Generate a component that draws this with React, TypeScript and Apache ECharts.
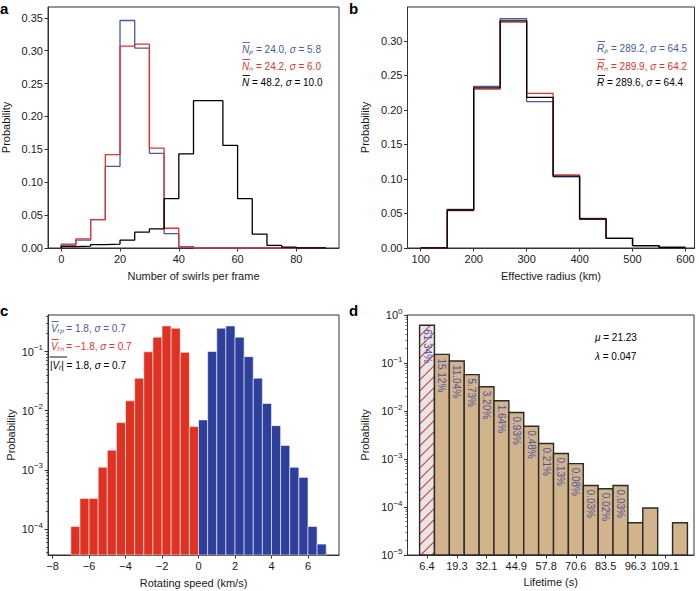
import React, { useEffect, useRef } from 'react';
import * as echarts from 'echarts';

// ---------------- data ----------------
// a: number of swirls per frame (bin edges 0..90, width 5)
const swirlEdges = [0, 5, 10, 15, 20, 25, 30, 35, 40, 45, 50, 55, 60, 65, 70, 75, 80, 85, 90];
const swirlNp = [0.006, 0.012, 0.043, 0.124, 0.346, 0.304, 0.144, 0.022, 0.0015, 0, 0, 0, 0, 0, 0, 0, 0, 0];
const swirlNn = [0.004, 0.014, 0.043, 0.142, 0.307, 0.31, 0.152, 0.03, 0.002, 0, 0, 0, 0, 0, 0, 0, 0, 0];
const swirlN = [0.002, 0.003, 0.005, 0.006, 0.012, 0.024, 0.029, 0.075, 0.143, 0.224, 0.224, 0.156, 0.075, 0.021, 0.004, 0.0012, 0, 0];
const swirlXTicks = [0, 20, 40, 60, 80];
const swirlYTicks = [0, 0.05, 0.1, 0.15, 0.2, 0.25, 0.3, 0.35];

// b: effective radius (bin edges 100..600, width 50)
const radiusEdges = [100, 150, 200, 250, 300, 350, 400, 450, 500, 550, 600];
const radiusRp = [0, 0.056, 0.234, 0.332, 0.212, 0.103, 0.042, 0.014, 0.0035, 0.001];
const radiusRn = [0, 0.054, 0.23, 0.327, 0.224, 0.106, 0.043, 0.014, 0.0035, 0.001];
const radiusR = [0, 0.055, 0.232, 0.329, 0.218, 0.104, 0.042, 0.014, 0.0035, 0.001];
const radiusXTicks = [100, 200, 300, 400, 500, 600];
const radiusYTicks = [0, 0.05, 0.1, 0.15, 0.2, 0.25, 0.3];

// c: rotating speed (bin edges, width 0.5)
const speedEdgesNeg = [-7, -6.5, -6, -5.5, -5, -4.5, -4, -3.5, -3, -2.5, -2, -1.5, -1, -0.5, 0];
const speedEdgesPos = [0, 0.5, 1, 1.5, 2, 2.5, 3, 3.5, 4, 4.5, 5, 5.5, 6, 6.5, 7];
const speedNeg = [1.11e-4, 3.3e-4, 3.3e-4, 1.11e-3, 2.16e-3, 6.3e-3, 1.47e-2, 3.55e-2, 0.099, 0.175, 0.271, 0.248, 0.097, 5.4e-3];
const speedPos = [7.0e-3, 0.1, 0.248, 0.271, 0.175, 0.082, 0.0355, 0.0133, 5.6e-3, 2.6e-3, 1.11e-3, 7.5e-4, 1.11e-4, 5.6e-5];
const speedXTicks = [-8, -6, -4, -2, 0, 2, 4, 6];
const speedYTicks = [1e-4, 1e-3, 1e-2, 1e-1];

// d: lifetime
const lifetimeCenters = [6.42, 12.84, 19.26, 25.68, 32.1, 38.52, 44.94, 51.36, 57.78, 64.2, 70.62, 77.04, 83.46, 89.88, 96.3, 102.72, 109.14, 115.56];
const lifetimeProb = [0.6134, 0.1512, 0.1104, 0.0573, 0.032, 0.0164, 0.0093, 0.0048, 0.0021, 0.0013, 0.0008, 0.00028, 0.00024, 0.00028, 0.000047, 0.000095, 0, 0.000047];
const lifetimeLabels = ['61.34%', '15.12%', '11.04%', '5.73%', '3.20%', '1.64%', '0.93%', '0.48%', '0.21%', '0.13%', '0.08%', '0.03%', '0.02%', '0.03%', '', '', '', ''];
const lifetimeXTicks = [6.4, 19.3, 32.1, 44.9, 57.8, 70.6, 83.5, 96.3, 109.1];
const lifetimeYTicks = [1e-5, 1e-4, 1e-3, 1e-2, 1e-1, 1];

// ---------------- styles ----------------
const FONT = '"Liberation Sans", Arial, Helvetica, sans-serif';
const BLUE = '#4858a6';
const RED = '#e0352c';
const BAR_RED = '#df3222';
const BAR_BLUE = '#2e3f9c';
const TAN = '#d2b48c';
const AX = '#333';
const TXT = '#1a1a1a';

const logLabel = (v: number) => {
  const e = Math.round(Math.log10(v));
  return '{b|10}{s|' + (e < 0 ? '\u2212' + Math.abs(e) : String(e)) + '}';
};
const logRich = {
  b: { fontSize: 11, fontFamily: FONT, color: TXT },
  s: { fontSize: 8, fontFamily: FONT, color: TXT, padding: [0, 0, 8, 0] },
};
const minus = (v: number) => (v < 0 ? '\u2212' + Math.abs(v) : String(v));

const minorLog = (lo: number, hi: number) => {
  const out: number[] = [];
  for (let d = -6; d <= 0; d++) for (let k = 2; k <= 9; k++) { const v = k * Math.pow(10, d); if (v > lo && v < hi) out.push(v); }
  return out;
};

const stepPoints = (edges: number[], vals: number[]) => {
  const pts: number[][] = [[edges[0], 0]];
  vals.forEach((v, i) => { pts.push([edges[i], v]); pts.push([edges[i + 1], v]); });
  pts.push([edges[edges.length - 1], 0]);
  return pts;
};

const tickStyle = { show: true, length: 3.5, lineStyle: { color: AX, width: 1 } };
const lineStyleAx = { show: true, onZero: false, lineStyle: { color: AX, width: 1 } };
const labelBase = { fontSize: 11, color: TXT, fontFamily: FONT };
const nameStyle = { fontSize: 11, color: TXT, fontFamily: FONT };

const xAxisCfg = (grid: number, min: number, max: number, ticks: number[], name: string, gap: number, fmt: (v: number) => string) => ({
  gridIndex: grid, type: 'value', min, max,
  axisLine: lineStyleAx,
  axisTick: { ...tickStyle, customValues: ticks },
  axisLabel: { ...labelBase, margin: 5, customValues: ticks, formatter: fmt },
  splitLine: { show: false },
  name, nameLocation: 'middle', nameGap: gap, nameTextStyle: nameStyle, nameMoveOverlap: false,
});

const yAxisCfg = (grid: number, type: string, min: number, max: number, ticks: number[], gap: number, fmt: (v: number) => string, isLog = false) => ({
  gridIndex: grid, type, min, max, position: 'left',
  axisLine: lineStyleAx,
  axisTick: { ...tickStyle, customValues: ticks },
  axisLabel: { ...labelBase, margin: 5, customValues: ticks, formatter: fmt, ...(isLog ? { rich: logRich } : {}) },
  splitLine: { show: false },
  name: 'Probability', nameLocation: 'middle', nameGap: gap, nameTextStyle: nameStyle, nameMoveOverlap: false,
});

const minorAxisCfg = (grid: number, min: number, max: number) => ({
  gridIndex: grid, type: 'log', min, max, position: 'left', offset: 0,
  axisLine: { show: false, onZero: false },
  axisTick: { show: true, length: 2, lineStyle: { color: AX, width: 0.8 }, customValues: minorLog(min, max) },
  axisLabel: { show: false },
  splitLine: { show: false },
});

const rich = (color: string) => ({
  i: { fontStyle: 'italic', fontSize: 10, fontFamily: FONT, fill: color },
  s: { fontStyle: 'italic', fontSize: 10, fontFamily: FONT, fill: color },
  t: { fontSize: 10, fontFamily: FONT, fill: color },
});
const legend = (x: number, y: number, text: string, color: string) => ({
  type: 'text', x, y, z: 100,
  style: { text, rich: rich(color), fill: color, font: `10px ${FONT}`, align: 'left', verticalAlign: 'middle', textAlign: 'left', textVerticalAlign: 'middle' },
});
const overline = (x1: number, x2: number, y: number, color: string) => ({
  type: 'line', z: 100, shape: { x1, y1: y, x2, y2: y }, style: { stroke: color, lineWidth: 0.9 },
});
const panelLetter = (x: number, y: number, t: string) => ({
  type: 'text', x, y, z: 100,
  style: { text: t, fill: '#000', font: `bold 15px ${FONT}`, align: 'left', verticalAlign: 'middle', textAlign: 'left', textVerticalAlign: 'middle' },
});

const speedBarData = (edges: number[], vals: number[]) => vals.map((v, i) => [edges[i], v, edges[i + 1]]);

const speedRender = (color: string) => (params: any, api: any) => {
  const x0 = api.value(0); const v = api.value(1); const x1 = api.value(2);
  const p0 = api.coord([x0, v]); const p1 = api.coord([x1, v]);
  const cs = params.coordSys; const bottom = cs.y + cs.height;
  return {
    type: 'rect',
    shape: { x: p0[0], y: p0[1], width: p1[0] - p0[0], height: bottom - p0[1] },
    style: { fill: color, stroke: 'rgba(255,255,255,0.7)', lineWidth: 0.8 },
  };
};

const BIN_W = 6.42;
const lifeIdx = lifetimeProb.map((v, i) => i).filter((i) => lifetimeProb[i] > 0);
const lifeData = lifeIdx.map((i) => [lifetimeCenters[i] - BIN_W / 2, lifetimeProb[i], lifetimeCenters[i] + BIN_W / 2]);

const lifeRender = (params: any, api: any) => {
  const idx = lifeIdx[params.dataIndex];
  const x0 = api.value(0); const v = api.value(1); const x1 = api.value(2);
  const p0 = api.coord([x0, v]); const p1 = api.coord([x1, v]);
  const cs = params.coordSys; const bottom = cs.y + cs.height;
  const left = p0[0]; const right = p1[0]; const top = p0[1];
  const hatched = idx === 0;
  const children: any[] = [
    { type: 'rect', shape: { x: left, y: top, width: right - left, height: bottom - top }, style: { fill: hatched ? '#e6e6e6' : TAN, stroke: 'none' } },
  ];
  if (hatched) {
    const s = 11;
    for (let c = left + top; c <= right + bottom; c += s) {
      const xa = Math.max(left, c - bottom); const xb = Math.min(right, c - top);
      if (xb > xa) children.push({ type: 'line', shape: { x1: xa, y1: c - xa, x2: xb, y2: c - xb }, style: { stroke: '#e03a34', lineWidth: 1.1 } });
    }
  }
  children.push({ type: 'rect', shape: { x: left, y: top, width: right - left, height: bottom - top }, style: { fill: 'none', stroke: '#2a2a2a', lineWidth: 1.4 } });
  const lab = lifetimeLabels[idx];
  if (lab) {
    children.push({
      type: 'text', x: (left + right) / 2, y: top + 4, rotation: -Math.PI / 2,
      style: { text: lab, fill: '#4a52a0', font: `10px ${FONT}`, align: 'left', verticalAlign: 'middle', textAlign: 'left', textVerticalAlign: 'middle' },
    });
  }
  return { type: 'group', children };
};

const lineSeries = (xi: number, yi: number, pts: number[][], color: string) => ({
  type: 'line', xAxisIndex: xi, yAxisIndex: yi, data: pts, showSymbol: false, symbol: 'none', silent: true,
  lineStyle: { color, width: 1.3 }, itemStyle: { color }, animation: false,
});

const C_MIN = 3.66e-5;
const C_MAX = 0.414;

export default function App() {
  const ref = useRef<HTMLDivElement>(null);
  useEffect(() => {
    if (!ref.current) return;
    const chart = echarts.init(ref.current, undefined, { renderer: 'svg' });
    const gridBase = { show: true, borderColor: AX, borderWidth: 1, backgroundColor: 'transparent', containLabel: false, outerBoundsMode: 'none' };
    const option: any = {
      animation: false,
      backgroundColor: '#fff',
      grid: [
        { ...gridBase, left: 48, top: 7, width: 291, height: 241 },
        { ...gridBase, left: 407.5, top: 7, width: 287, height: 241 },
        { ...gridBase, left: 48, top: 315, width: 291, height: 240 },
        { ...gridBase, left: 407.5, top: 315, width: 286.5, height: 240 },
      ],
      xAxis: [
        xAxisCfg(0, -4.5, 94.5, swirlXTicks, 'Number of swirls per frame', 22, (v) => String(v)),
        xAxisCfg(1, 75, 617, radiusXTicks, 'Effective radius (km)', 22, (v) => String(v)),
        xAxisCfg(2, -8.25, 7.7, speedXTicks, 'Rotating speed (km/s)', 22, minus),
        xAxisCfg(3, -2.0, 121.6, lifetimeXTicks, 'Lifetime (s)', 21, (v) => v.toFixed(1)),
      ],
      yAxis: [
        yAxisCfg(0, 'value', 0, 0.3665, swirlYTicks, 37, (v) => v.toFixed(2)),
        yAxisCfg(1, 'value', 0, 0.349, radiusYTicks, 37, (v) => v.toFixed(2)),
        yAxisCfg(2, 'log', C_MIN, C_MAX, speedYTicks, 32, logLabel, true),
        minorAxisCfg(2, C_MIN, C_MAX),
        yAxisCfg(3, 'log', 1e-5, 1, lifetimeYTicks, 37, logLabel, true),
        minorAxisCfg(3, 1e-5, 1),
      ],
      series: [
        lineSeries(0, 0, stepPoints(swirlEdges, swirlNp), BLUE),
        lineSeries(0, 0, stepPoints(swirlEdges, swirlNn), RED),
        lineSeries(0, 0, stepPoints(swirlEdges, swirlN), '#000'),
        lineSeries(1, 1, stepPoints(radiusEdges, radiusRp), BLUE),
        lineSeries(1, 1, stepPoints(radiusEdges, radiusRn), RED),
        lineSeries(1, 1, stepPoints(radiusEdges, radiusR), '#000'),
        {
          type: 'custom', xAxisIndex: 2, yAxisIndex: 2, data: speedBarData(speedEdgesNeg, speedNeg),
          encode: { x: [0, 2], y: 1 }, renderItem: speedRender(BAR_RED), silent: true,
        },
        {
          type: 'custom', xAxisIndex: 2, yAxisIndex: 2, data: speedBarData(speedEdgesPos, speedPos),
          encode: { x: [0, 2], y: 1 }, renderItem: speedRender(BAR_BLUE), silent: true,
        },
        {
          type: 'custom', xAxisIndex: 3, yAxisIndex: 4, data: lifeData,
          encode: { x: [0, 2], y: 1 }, renderItem: lifeRender, silent: true,
        },
      ],
      graphic: [
        panelLetter(0, 8, 'a'),
        panelLetter(349, 8, 'b'),
        panelLetter(0, 310, 'c'),
        panelLetter(349, 310, 'd'),
        // a
        legend(242, 49, '{i|N}{s|\u209A}{t| = 24.0, }{i|\u03C3}{t| = 5.8}', BLUE),
        legend(242, 66, '{i|N}{s|\u2099}{t| = 24.2, }{i|\u03C3}{t| = 6.0}', RED),
        legend(242, 82, '{i|N}{t| = 48.2, }{i|\u03C3}{t| = 10.0}', '#000'),
        overline(242.5, 250, 42.5, BLUE),
        overline(242.5, 250, 59.5, RED),
        overline(242.5, 250, 75.5, '#000'),
        // b
        legend(597, 48, '{i|R}{s|\u209A}{t| = 289.2, }{i|\u03C3}{t| = 64.5}', BLUE),
        legend(597, 66, '{i|R}{s|\u2099}{t| = 289.9, }{i|\u03C3}{t| = 64.2}', RED),
        legend(597, 82, '{i|R}{t| = 289.6, }{i|\u03C3}{t| = 64.4}', '#000'),
        overline(597.5, 605, 41.5, BLUE),
        overline(597.5, 605, 59.5, RED),
        overline(597.5, 605, 75.5, '#000'),
        // c
        legend(51, 328, '{i|V}{s|\u1D63\u209A}{t| = 1.8, }{i|\u03C3}{t| = 0.7}', BLUE),
        legend(51, 346, '{i|V}{s|\u1D63\u2099}{t| = \u22121.8, }{i|\u03C3}{t| = 0.7}', RED),
        legend(50, 365, '{t||}{i|V}{s|\u1D63}{t|| = 1.8, }{i|\u03C3}{t| = 0.7}', '#000'),
        overline(51.5, 58.5, 321.5, BLUE),
        overline(51.5, 58.5, 339.5, RED),
        overline(49.5, 67, 357, '#000'),
        // d
        legend(595, 337, '{i|\u03BC}{t| = 21.23}', '#000'),
        legend(595, 356, '{i|\u03BB}{t| = 0.047}', '#000'),
      ],
    };
    chart.setOption(option);
    return () => chart.dispose();
  }, []);
  return <div ref={ref} style={{ position: 'absolute', left: 0, top: 0, width: 699, height: 591 }} />;
}
